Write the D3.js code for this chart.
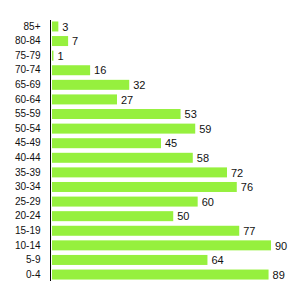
<!DOCTYPE html>
<html>
<head>
<meta charset="utf-8">
<script src="https://cdn.jsdelivr.net/npm/d3@7"></script>
<style>
  body { margin: 0; background: #fff; }
  text { font-family: "Liberation Sans", Arial, sans-serif; fill: #111; }
</style>
</head>
<body>
<svg id="chart" width="300" height="300"></svg>
<script>
// age groups, top to bottom
var ageGroups = ["85+", "80-84", "75-79", "70-74", "65-69", "60-64", "55-59", "50-54",
	"45-49", "40-44", "35-39", "30-34", "25-29", "20-24", "15-19", "10-14", "5-9", "0-4"];
var counts = [3, 7, 1, 16, 32, 27, 53, 59, 45, 58, 72, 76, 60, 50, 77, 90, 64, 89];

var svg = d3.select("#chart");
var plotLeft = 51, plotTop = 20, plotBottom = 281;

var x = d3.scaleLinear()
	.domain([0, 90])
	.range([plotLeft, 271]);

var y = d3.scaleBand()
	.domain(ageGroups)
	.range([plotTop, plotBottom])
	.paddingInner(0.315)
	.paddingOuter(0.1);

var rows = ageGroups.map(function(g, i) { return { group: g, value: counts[i] }; });

svg.selectAll("rect.bar")
	.data(rows)
	.enter().append("rect")
	.attr("class", "bar")
	.attr("x", x(0) + 1)
	.attr("y", function(d) { return y(d.group); })
	.attr("width", function(d) { return x(d.value) - x(0) - 1; })
	.attr("height", y.bandwidth())
	.attr("fill", "#96f03e");

svg.selectAll("text.val")
	.data(rows)
	.enter().append("text")
	.attr("class", "val")
	.attr("x", function(d) { return x(d.value) + 4; })
	.attr("y", function(d) { return y(d.group) + y.bandwidth() / 2; })
	.attr("dy", "0.38em")
	.attr("font-size", 11)
	.text(function(d) { return d.value; });

// category axis, drawn with d3 but without ticks
var yAxis = svg.append("g")
	.attr("transform", "translate(" + (plotLeft - 0.5) + ",0)")
	.call(d3.axisLeft(y).tickSize(0).tickPadding(10));
yAxis.select(".domain")
	.attr("d", "M0," + plotTop + "V" + plotBottom)
	.attr("stroke", "#000");
yAxis.selectAll("text")
	.attr("font-size", 10)
	.attr("font-family", "Liberation Sans, Arial, sans-serif")
	.attr("fill", "#111");
</script>
</body>
</html>
